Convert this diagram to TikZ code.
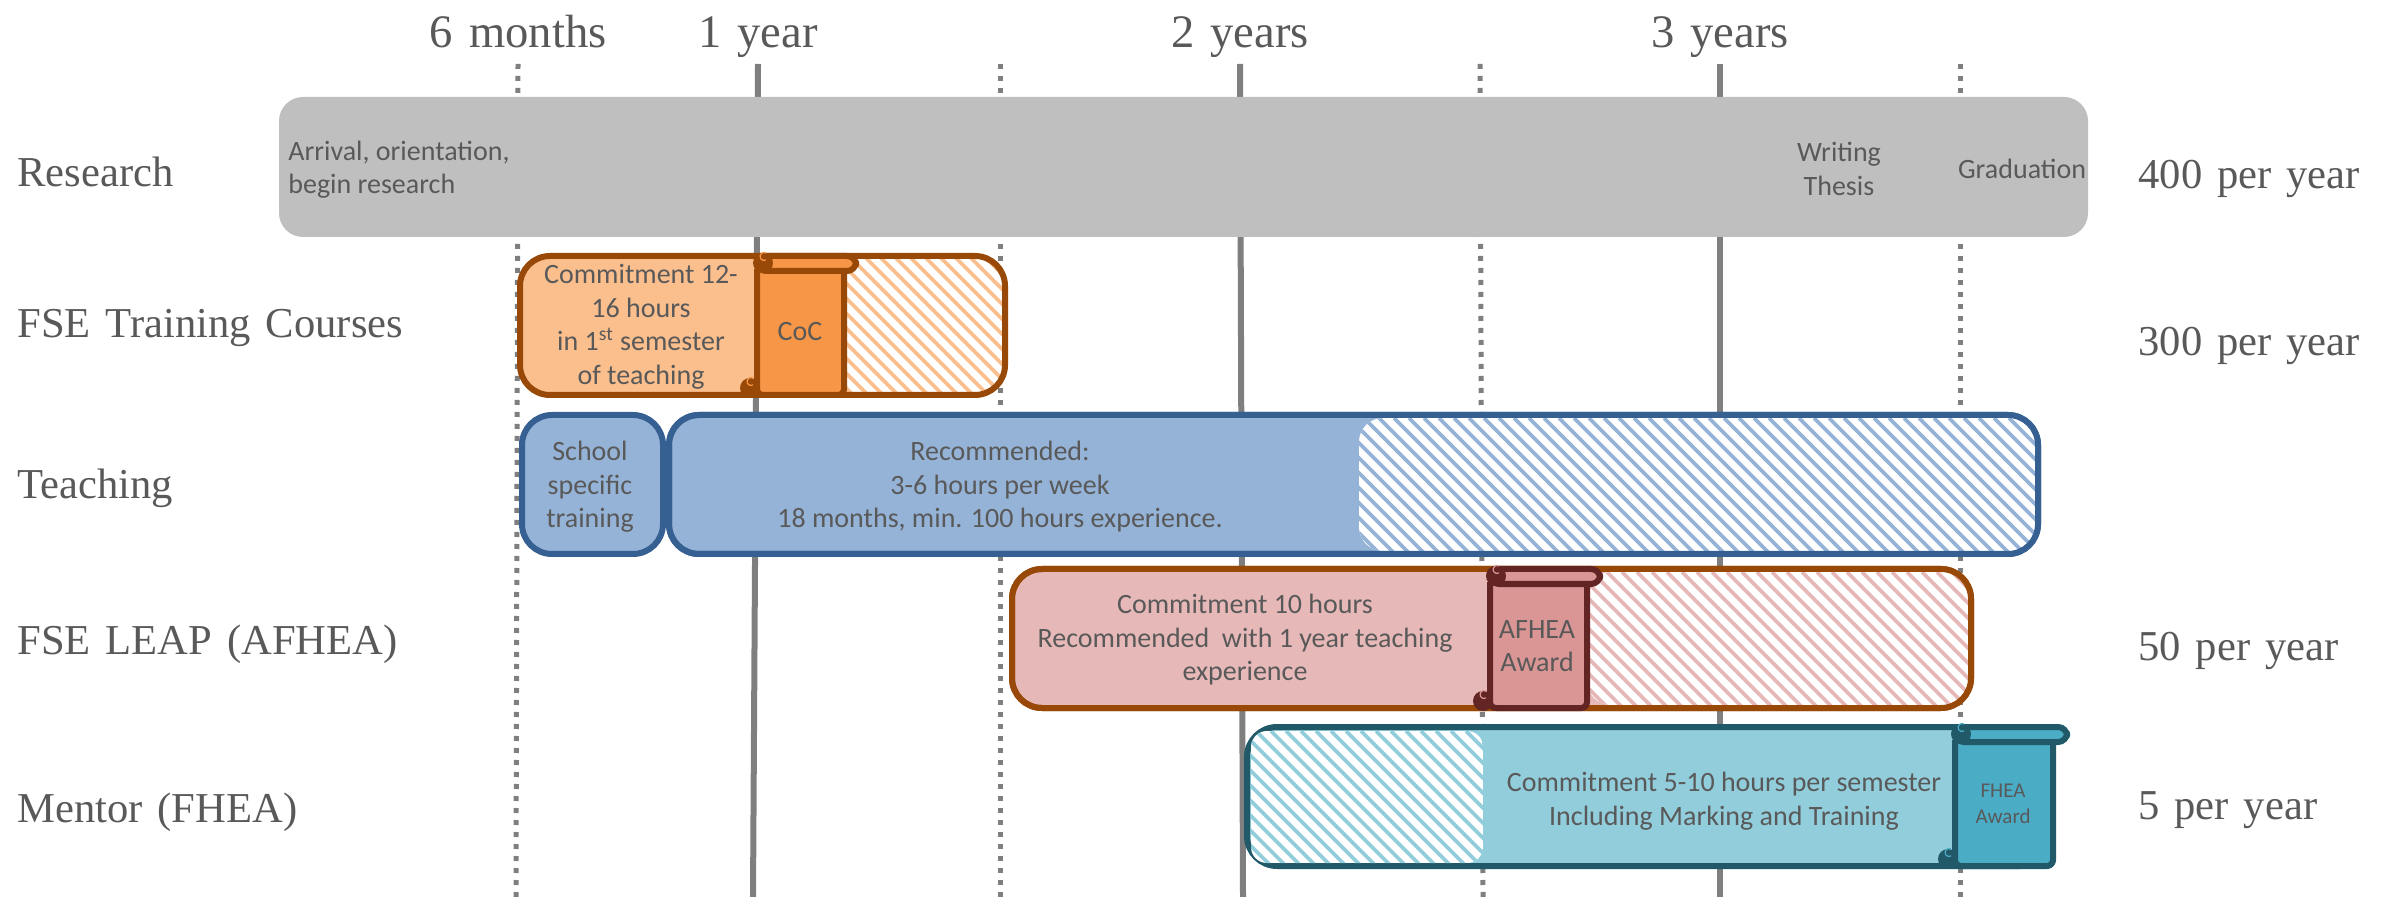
\documentclass[tikz,border=0pt]{standalone}
\usepackage{fontspec}
\setmainfont{Carlito}
\newfontfamily\headfont[WordSpace=1.4]{Liberation Serif}
\definecolor{inkgray}{HTML}{595959}
\definecolor{linegray}{HTML}{7F7F7F}
\definecolor{resgray}{HTML}{BFBFBF}
\definecolor{orgline}{HTML}{984807}
\definecolor{orgfill}{HTML}{FBBF8E}
\definecolor{orgdark}{HTML}{F79646}
\definecolor{blueline}{HTML}{376092}
\definecolor{bluefill}{HTML}{95B3D7}
\definecolor{pinkfill}{HTML}{E6B9B8}
\definecolor{pinkdark}{HTML}{D99694}
\definecolor{pinkline}{HTML}{632523}
\definecolor{tealfill}{HTML}{92CDDC}
\definecolor{tealdark}{HTML}{4BACC6}
\definecolor{tealline}{HTML}{215968}
\tikzset{
head/.style={font=\headfont\fontsize{21.3}{24}\selectfont,text=inkgray,inner sep=0pt,anchor=base west},
tophead/.style={font=\headfont\fontsize{23.3}{26}\selectfont,text=inkgray,inner sep=0pt,anchor=base},
note/.style={font=\fontsize{14}{16.75}\selectfont,text=inkgray,align=center,inner sep=0pt,yshift=-1pt},
solidtick/.style={linegray,line width=3pt},
dottick/.style={linegray,line width=2.5pt,dash pattern=on 2.5pt off 3.5pt},
hatchline/.style={line width=1.8pt},
barline/.style={line width=3pt,rounded corners=15pt},
}
% args: x1,y1,x2,y2,corner,colour
\newcommand{\hatchbox}[6]{
\begin{scope}
\clip[rounded corners=#5] (#1,#2) rectangle (#3,#4);
\fill[white] (#1,#2) rectangle (#3,#4);
\foreach \k in {-160,-145,...,1100}
\draw[hatchline,#6] (#1+\k,#2)--+(170,170);
\end{scope}
}
% args: x1,x2,ytop,ybot,xbanner,fill,line
\newcommand{\awardscroll}[7]{
\begin{scope}[line width=3pt]
\fill[#7] (#1-7,#4-10) circle (10);
\filldraw[draw=#7,fill=#6,rounded corners=3pt] (#1,#3+16) -- (#1,#4-3) -- (#2,#4-3) -- (#2,#3+16);
\filldraw[draw=#7,fill=#6,rounded corners=4.5pt] (#1,#3+3) rectangle (#5-3,#3+18);
\fill[#7] (#1+6,#3+10) circle (10);
\draw[#6,line width=.6pt] (#1+9,#3+7) arc (60:300:4);
\draw[#6,line width=.6pt] (#1-4,#4-13) arc (60:300:4);
\end{scope}
}
\begin{document}
\begin{tikzpicture}[x=.5pt,y=-.5pt,line join=round]
\useasboundingbox (0,0) rectangle (2387,897);
% time lines
\foreach \xa/\xb in {758/753,1240/1243,1720/1720}
\draw[solidtick] (\xa,64)--(\xb,897);
\foreach \xa/\xb in {518/516,1000/1000,1480/1483,1960/1960}
\draw[dottick] (\xa,64)--(\xb,897);
\path (518,48)node[tophead] (six){6 months}
(758,48)node[tophead] (one){1 year}
(1240,48)node[tophead] (two){2 years}
(1720,48)node[tophead] (three){3 years};
% research
\fill[resgray,rounded corners=12pt] (279,97) rectangle (2088,237);
\path (288,151)node[note,anchor=west] (arrive){Arrival, orientation,}
(288,184)node[note,anchor=west] (begin){begin research}
(1839,167)node[note] (thesis){Writing\\Thesis}
(2022,167)node[note] (grad){Graduation};
% fse training
\begin{scope}
\clip[rounded corners=15pt] (520,256) rectangle (1005,395);
\fill[white] (520,256) rectangle (1005,395);
\fill[orgfill] (520,256) rectangle (760,395);
\hatchbox{844}{256}{1005}{395}{0pt}{orgfill}
\end{scope}
\draw[orgline,barline] (520,256) rectangle (1005,395);
\awardscroll{757}{844}{253}{398}{859}{orgdark}{orgline}
\path (641,325)node[note] (commit){Commitment 12-\\16 hours\\in 1\textsuperscript{st} semester\\of teaching}
(800,330)node[note] (coc){CoC};
% teaching
\draw[blueline,barline,fill=bluefill] (522,415) rectangle (663,554);
\draw[blueline,barline,fill=bluefill] (669,415) rectangle (2038,554);
\hatchbox{1359}{418}{2035}{551}{12pt}{bluefill}
\draw[blueline,barline] (669,415) rectangle (2038,554);
\path (590,485)node[note] (school){School\\specific\\training}
(1000,485)node[note] (recommend){Recommended:\\3-6 hours per week\\18 months, min. 100 hours experience.};
% leap
\draw[orgline,barline,fill=pinkfill] (1012,569) rectangle (1971,708);
\hatchbox{1587}{572}{1968}{705}{12pt}{pinkfill}
\draw[orgline,barline] (1012,569) rectangle (1971,708);
\awardscroll{1490}{1587}{566}{711}{1603}{pinkdark}{pinkline}
\path (1245,638)node[note] (leap){Commitment 10 hours\\Recommended\ \ with 1 year teaching\\experience}
(1537,644)node[note] (afhea){AFHEA\\Award};
% mentor
\draw[tealline,barline,fill=tealfill] (1247,727) rectangle (2050,866);
\hatchbox{1251}{731}{1483}{863}{8pt}{tealfill}
\awardscroll{1955}{2053}{724}{869}{2070}{tealdark}{tealline}
\path (1724,799)node[note] (mentor){Commitment 5-10 hours per semester\\Including Marking and Training}
(2003,802)node[note,font=\fontsize{10.5}{13}\selectfont] (fhea){FHEA\\Award};
% row names
\path (17,187)node[head] (rowa){Research}
(17,338)node[head] (rowb){FSE Training Courses}
(17,499)node[head] (rowc){Teaching}
(17,654)node[head] (rowd){FSE LEAP (AFHEA)}
(17,822)node[head] (rowe){Mentor (FHEA)};
% per year
\path (2138,189)node[head] (pera){400 per year}
(2138,356)node[head] (perb){300 per year}
(2138,660)node[head] (perc){50 per year}
(2138,819)node[head] (perd){5 per year};
\end{tikzpicture}
\end{document}
